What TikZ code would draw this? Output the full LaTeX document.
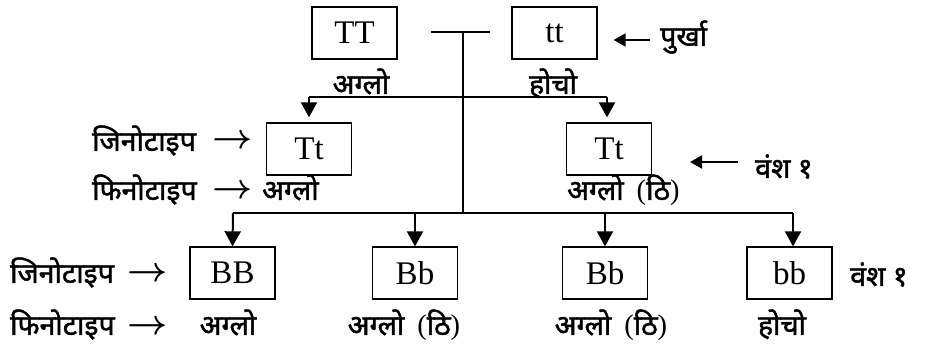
\documentclass[tikz,border=0pt]{standalone}
\usepackage{fontspec}
\setmainfont{Liberation Serif}
\newfontfamily\dev[Script=Devanagari, FakeBold=1.6]{Noto Sans}
\usetikzlibrary{arrows.meta}
\newcommand{\thinparen}[1]{{\rmfamily#1}}
\newcommand{\textto}{\scalebox{3.5}{\boldmath$\rightarrow$}}
\newcommand{\agloti}{अग्लो\hspace{13pt}\thinparen{(}ठि\thinparen{)}}
\begin{document}
\begin{tikzpicture}[x=1pt,y=-1pt,
  gbox/.style={draw, line width=1.3pt, minimum width=85pt, minimum height=52pt,
    inner sep=0pt, font=\fontsize{33}{34}\selectfont},
  dv/.style={inner sep=0pt, font=\dev\fontsize{28.5}{30}\selectfont},
  link/.style={line width=2pt},
  down/.style={link, -{Triangle[length=15pt,width=16pt]}},
  pointer/.style={link, -{Triangle[length=12pt,width=13pt]}},
  textarrow/.style={inner sep=0pt}
]
\useasboundingbox (0,0) rectangle (926,344);

% parents
\node[gbox] (TT) at (354.5,33) {TT};
\node[gbox] (tt) at (554.5,33) {tt};
\node[dv, anchor=base] (pTT) at (361,94) {अग्लो};
\node[dv, anchor=base] (ptt) at (553,94) {होचो};
\node[dv, anchor=base west] (purkha) at (660,46) {पुर्खा};
\draw[pointer] ([xshift=-10pt]purkha.west |- 0,40) -- ([xshift=16pt]tt.east |- 0,40);

% cross and descent line
\coordinate (crossL) at (431,32);
\coordinate (crossR) at (490,32);
\coordinate (hub) at (463,32);
\coordinate (hubB) at (463,213);
\draw[link] (crossL) -- (crossR);
\draw[link] (hub) -- (hubB);

% first generation
\node[gbox] (F1a) at (309,149) {Tt};
\node[gbox] (F1b) at (609,149) {Tt};
\coordinate (barL) at (309,97);
\coordinate (barR) at (607,97);
\draw[link] (barL) -- (barR);
\draw[down, shorten >=5pt] (barL) -- (F1a.north);
\draw[down, shorten >=5pt] (barR) -- (barR |- F1b.north);

\node[dv, anchor=base west] (geno1) at (92,151) {जिनोटाइप};
\node[textarrow, anchor=west] (ga1) at (212,142) {\textto};
\node[dv, anchor=base west] (pheno1) at (92,200) {फिनोटाइप};
\node[textarrow, anchor=west] (pa1) at (212,192) {\textto};
\node[dv, anchor=base west] (ph1a) at (262,200) {अग्लो};
\node[dv, anchor=base west] (ph1b) at (567,200) {\agloti};
\node[dv, anchor=base west] (vansh1) at (755,178) {वंश १};
\draw[pointer] ([xshift=-17pt]vansh1.west |- 0,162) -- ++(-48,0);

% second generation
\node[gbox] (BB) at (232.5,273) {BB};
\node[gbox] (Bb1) at (415,273) {Bb};
\node[gbox] (Bb2) at (605,273) {Bb};
\node[gbox] (bb) at (789.5,273) {bb};
\coordinate (bar2L) at (233,213);
\coordinate (bar2R) at (793,213);
\draw[link] (bar2L) -- (bar2R);
\draw[down] (bar2L) -- (BB.north);
\draw[down] (Bb1.north |- bar2L) -- (Bb1.north);
\draw[down] (Bb2.north |- bar2L) -- (Bb2.north);
\draw[down] (bar2R) -- (bar2R |- bb.north);

\node[dv, anchor=base west] (geno2) at (10,283) {जिनोटाइप};
\node[textarrow, anchor=west] (ga2) at (127,275) {\textto};
\node[dv, anchor=base west] (pheno2) at (10,335) {फिनोटाइप};
\node[textarrow, anchor=west] (pa2) at (127,328) {\textto};
\node[dv, anchor=base] (ph2a) at (228,335) {अग्लो};
\node[dv, anchor=base] (ph2b) at (404,335) {\agloti};
\node[dv, anchor=base] (ph2c) at (611,335) {\agloti};
\node[dv, anchor=base] (ph2d) at (782,335) {होचो};
\node[dv, anchor=base west] (vansh2) at (850,286) {वंश १};
\end{tikzpicture}
\end{document}
